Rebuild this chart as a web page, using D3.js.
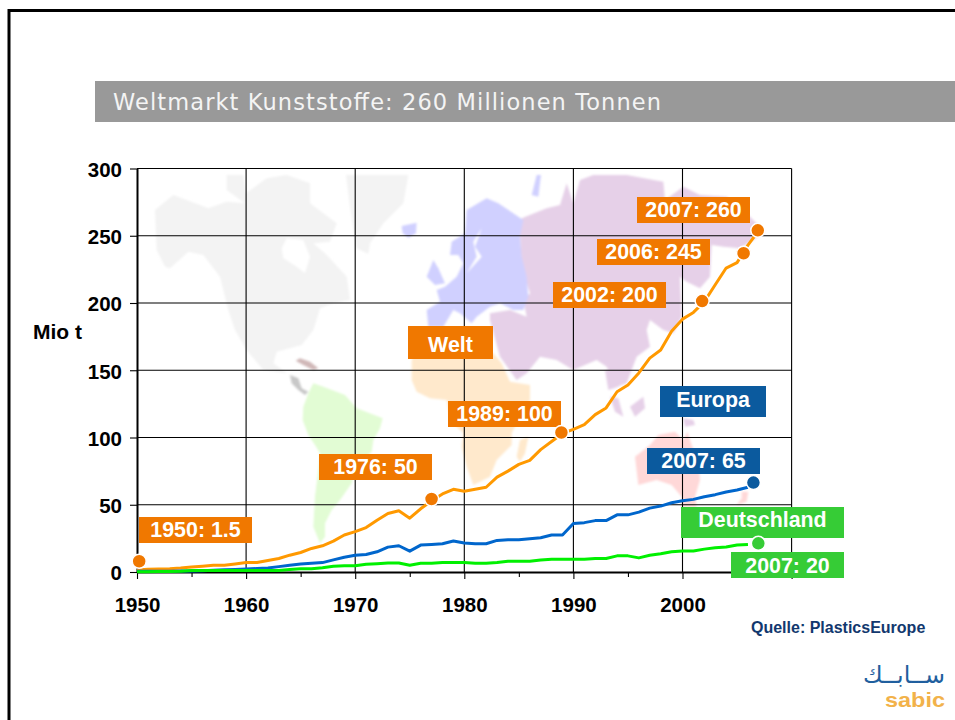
<!DOCTYPE html>
<html><head><meta charset="utf-8">
<script src="https://cdn.jsdelivr.net/npm/d3@7/dist/d3.min.js"></script>
<style>html,body{margin:0;padding:0;background:#fff;overflow:hidden}svg{display:block}
text{font-family:"Liberation Sans",Arial,sans-serif}</style></head><body>
<script>
const years = d3.range(1950, 2008);
const world = [1.5,2,2.2,2.5,3,3.7,4.3,5,5,6,7,7,8.5,10,12.5,14.5,17.5,19.5,23,27.5,30,33,38.5,43.5,45.5,40,47,53,58,61.5,60,61.5,63,70.5,75,80,83,91,97,103,106,109.5,117,122,134,139,148,159,165,179,188,193,201,213.6,226,230,243,254];
const europe = [0.5,0.5,0.6,0.6,0.7,0.7,1,1.3,1.6,1.9,2.2,2.6,3,4,5,6,6.5,7,9,11,12.5,13,15,18.5,19.5,15.5,20,20.5,21,23,21.5,21,21,23.5,24,24,24.7,25.5,27.5,27.5,36,36.7,38.2,38.2,42.5,42.5,44.5,47.5,49,51.5,53,54,56,57.5,59.5,61,63];
const germany = [0.2,0.2,0.3,0.4,0.5,1.2,1.2,1.2,1.2,1.2,1.2,1.2,1.2,1.2,1.8,2.5,2.5,3.2,4.2,4.7,4.7,5.7,6.2,6.7,6.7,5,6.5,6.5,7,7,7,6.5,6.5,7,8,8,8,9,9.5,9.5,9.5,9.5,10,10,12,12,10.5,12.4,13.6,15,15.6,15.6,17,18,18.6,20,20.4];
const xTicks = [1950,1960,1970,1980,1990,2000,2010];
const xMinorTicks = [1955,1965,1975,1985,1995,2005];
const yTicks = [0,50,100,150,200,250,300];

const titleText = "Weltmarkt Kunststoffe: 260 Millionen Tonnen";
const unitText = "Mio t";
const sourceText = "Quelle: PlasticsEurope";

const markerYears = [1950.2,1977,1988.9,2001.8,2005.6,2006.9,2006.5,2006.95];
const markerValues = [8,54.3,103.7,201.4,237,254,66.5,21.3];
const markerKinds = ["w","w","w","w","w","w","e","d"];

const boxTexts = ["1950: 1.5","1976: 50","Welt","1989: 100","2002: 200","2006: 245","2007: 260","Europa","2007: 65","Deutschland","2007: 20"];
const boxKinds = ["w","w","w","w","w","w","w","e","e","d","d"];
const boxRects = [[139,517,113,26],[319,454,113,26],[408,326,85,33],[448,401,113,26],[553,282,113,26],[597,239,113,26],[637,197,113,26],[660,386,106,31],[647,448,113,26],[681,507,163,31],[731,552,113,26]];
const boxTextShift = [0,0,2,0,0,0,0,-2,0,-3,1];

const kindColor = {w:"#F07800",e:"#0B5A9E",d:"#36CC36"};
const lineColor = {w:"#FF9900",e:"#0066CC",d:"#00F000"};

// backdrop world map, outlines (origin + 3x coordinates)
const mapShapes = [
 {f:"#F3F3F3",o:[120,160],p:[[105,150],[160,105],[265,145],[320,125],[375,130],[320,90],[320,45],[370,45],[378,100],[440,55],[500,45],[570,70],[570,130],[650,190],[630,245],[580,250],[620,285],[680,350],[690,420],[640,430],[600,445],[580,510],[545,555],[470,575],[460,610],[500,640],[430,630],[380,570],[345,510],[325,450],[300,350],[250,285],[205,275],[150,325],[135,320],[110,270]]},
 {f:"#FFFFFF",o:[120,160],p:[[500,235],[550,240],[570,290],[555,340],[530,320],[490,295],[485,265]]},
 {f:"#F3F3F3",o:[120,160],p:[[678,45],[865,45],[850,130],[790,190],[750,250],[745,282],[710,265],[690,140]]},
 {f:"#E2FCD4",o:[290,320],p:[[70,190],[100,200],[165,225],[200,265],[278,295],[270,325],[250,360],[245,395],[195,440],[185,490],[150,540],[125,570],[105,610],[105,650],[90,670],[70,620],[75,530],[85,450],[90,400],[75,375],[55,345],[38,300],[40,260],[55,220]]},
 {f:"#C8C8C8",o:[290,320],p:[[0,165],[25,175],[35,205],[55,215],[45,225],[25,210],[5,190]]},
 {f:"#D0B8B8",o:[290,320],p:[[17,122],[30,115],[60,125],[85,145],[70,150],[40,135]]},
 {f:"#FFE9CC",o:[290,320],p:[[365,120],[380,95],[610,100],[635,130],[660,185],[720,195],[720,240],[690,290],[665,340],[665,375],[620,420],[600,470],[550,495],[530,440],[515,380],[520,340],[480,300],[470,240],[420,235],[380,215],[365,180]]},
 {f:"#FFE9CC",o:[290,320],p:[[690,360],[715,350],[705,400],[690,425],[680,410]]},
 {f:"#E6D0E8",o:[460,160],p:[[185,175],[260,145],[300,135],[320,70],[340,130],[360,60],[400,45],[500,45],[610,65],[615,120],[670,80],[720,105],[800,110],[870,170],[915,215],[880,240],[840,265],[790,260],[755,255],[750,350],[720,385],[680,365],[660,350],[665,470],[640,520],[610,510],[570,480],[560,510],[570,560],[530,590],[500,670],[470,680],[440,620],[410,600],[340,630],[290,600],[240,590],[200,640],[170,660],[120,590],[90,480],[90,460],[150,450],[200,470],[190,420],[210,400],[185,320],[180,220]]},
 {f:"#D0D0FF",o:[400,170],p:[[200,120],[260,85],[295,100],[370,150],[360,200],[365,260],[380,320],[385,380],[370,420],[340,420],[300,400],[270,410],[230,440],[215,460],[180,430],[160,420],[130,470],[85,470],[80,420],[120,395],[110,360],[135,350],[170,320],[190,280],[175,255],[150,255],[155,215],[195,190]]},
 {f:"#FFFFFF",o:[400,170],p:[[245,175],[225,230],[245,260],[200,310],[230,260],[220,215]]},
 {f:"#D0D0FF",o:[400,170],p:[[100,270],[115,295],[135,340],[105,345],[80,320]]},
 {f:"#D0D0FF",o:[400,170],p:[[5,168],[50,158],[48,190],[25,203],[8,190]]},
 {f:"#D0D0FF",o:[400,170],p:[[410,15],[423,15],[415,80],[395,75]]},
 {f:"#FFD8D8",o:[600,370],p:[[175,195],[225,185],[250,210],[262,185],[275,225],[295,270],[300,330],[285,380],[290,410],[245,410],[245,380],[215,345],[170,330],[115,345],[105,260],[150,225]]},
 {f:"#FFD8D8",o:[600,370],p:[[425,365],[445,365],[440,395],[410,405],[425,385]]},
 {f:"#E6D0E8",o:[600,370],p:[[15,0],[65,5],[55,50],[25,60]]},
 {f:"#E6D0E8",o:[600,370],p:[[30,80],[55,85],[70,140],[45,125]]},
 {f:"#E6D0E8",o:[600,370],p:[[90,110],[130,80],[135,115],[105,140]]},
 {f:"#E6D0E8",o:[600,370],p:[[250,145],[280,150],[285,165],[255,170]]}
];

const W = 955, H = 720;
const svg = d3.select("body").append("svg").attr("width",W).attr("height",H);
svg.append("defs").append("filter").attr("id","soft").append("feGaussianBlur").attr("stdDeviation",0.8);
const x = d3.scaleLinear().domain([1950,2010]).range([137,791.6]);
const y = d3.scaleLinear().domain([0,300]).range([572,168.5]);

// frame
svg.append("path").attr("d","M955 10.5H9V720").attr("fill","none").attr("stroke","#000").attr("stroke-width",3);

// title bar
svg.append("rect").attr("x",95).attr("y",81).attr("width",860).attr("height",41).attr("fill","#999");
svg.append("text").attr("x",113).attr("y",110).attr("fill","#F4F4F4")
  .style("font-family","'DejaVu Sans',sans-serif").style("font-size","22.5px")
  .attr("textLength",548).attr("lengthAdjust","spacing").text(titleText);

// map
const poly = d3.line().curve(d3.curveLinearClosed);
svg.append("g").attr("filter","url(#soft)").selectAll("path").data(mapShapes).join("path")
  .attr("fill",d=>d.f)
  .attr("d",d=>poly(d.p.map(q=>[d.o[0]+q[0]/3,d.o[1]+q[1]/3])));

// grid
const grid = svg.append("g").attr("stroke","#000").attr("stroke-width",1.1);
grid.selectAll("line.h").data(yTicks.slice(1)).join("line").attr("class","h")
  .attr("x1",x(1950)).attr("x2",x(2010)).attr("y1",d=>y(d)).attr("y2",d=>y(d));
grid.selectAll("line.v").data(xTicks.slice(1)).join("line").attr("class","v")
  .attr("y1",y(0)).attr("y2",y(300)).attr("x1",d=>x(d)).attr("x2",d=>x(d));

// axes
const yAxis = svg.append("g").attr("transform",`translate(${x(1950)},0)`)
  .call(d3.axisLeft(y).tickValues(yTicks).tickSize(7).tickPadding(8).tickSizeOuter(0));
const xAxis = svg.append("g").attr("transform",`translate(0,${y(0)})`)
  .call(d3.axisBottom(x).tickValues(xTicks).tickFormat(d=>d===2010?"":d3.format("d")(d)).tickSize(7).tickPadding(18).tickSizeOuter(0));
const xMinor = svg.append("g").attr("transform",`translate(0,${y(0)})`)
  .call(d3.axisBottom(x).tickValues(xMinorTicks).tickFormat("").tickSize(5).tickSizeOuter(0));
xMinor.select(".domain").remove();
[yAxis,xAxis].forEach(a=>{
  a.selectAll("text").attr("fill","#000").style("font-size","20.5px").style("font-weight","bold").style("font-family","'Liberation Sans',Arial,sans-serif");
  a.select(".domain").attr("stroke-width",2);
  a.selectAll(".tick line").attr("stroke-width",1.1);
});
yAxis.selectAll("text").attr("dy","0.38em");
xMinor.selectAll(".tick line").attr("stroke-width",1.1);

svg.append("text").attr("x",33).attr("y",339).attr("font-size",21).attr("font-weight","bold").text(unitText);

// lines
const line = d3.line().x((d,i)=>x(years[i])).y(d=>y(d));
[[world,"w"],[europe,"e"],[germany,"d"]].forEach(([vals,k])=>{
  svg.append("path").attr("d",line(vals)).attr("fill","none")
    .attr("stroke",lineColor[k]).attr("stroke-width",3).attr("stroke-linejoin","round");
});

// boxes
boxTexts.forEach((t,i)=>{
  const r = boxRects[i], k = boxKinds[i];
  svg.append("rect").attr("x",r[0]).attr("y",r[1]).attr("width",r[2]).attr("height",r[3]).attr("fill",kindColor[k]);
  svg.append("text").attr("x",r[0]+r[2]/2).attr("y",r[1]+r[3]/2+7+boxTextShift[i]).attr("text-anchor","middle")
    .attr("fill","#fff").attr("font-size",21.4).attr("font-weight","bold").text(t);
});

// markers
svg.append("g").selectAll("circle").data(markerYears).join("circle")
  .attr("cx",d=>x(d)).attr("cy",(d,i)=>y(markerValues[i])).attr("r",7)
  .attr("fill",(d,i)=>kindColor[markerKinds[i]]).attr("stroke","#fff").attr("stroke-width",1.5);

// source
svg.append("text").attr("x",751).attr("y",633).attr("fill","#12386E").attr("font-size",16).attr("font-weight","bold").text(sourceText);

// logo
svg.append("text").attr("x",945).attr("y",683).attr("fill","#1F5F9E")
  .style("font-family","'DejaVu Sans',sans-serif").attr("font-size",24)
  .attr("textLength",82).attr("lengthAdjust","spacingAndGlyphs").attr("direction","rtl").attr("text-anchor","start").text("ســابــك");
svg.append("text").attr("x",885).attr("y",707).attr("fill","#F2B24A").attr("font-size",21).attr("font-weight","bold")
  .attr("textLength",60).attr("lengthAdjust","spacingAndGlyphs").text("sabic");
</script></body></html>
